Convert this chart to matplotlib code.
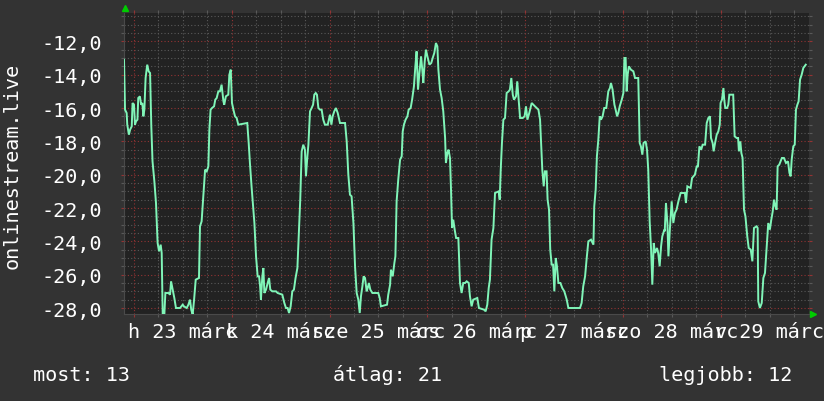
import numpy as np
import matplotlib
matplotlib.use('Agg')
from matplotlib import pyplot as plt

# hours since graph start, value (negative rank)
hours = [0.0, 0.25, 0.65, 0.8, 1.2, 1.5, 1.9, 2.1, 2.45, 2.7, 2.95, 3.3, 3.5, 3.9, 4.2, 4.5, 4.75, 5.0,
         5.3, 5.7, 6.05, 6.4, 6.7, 7.0, 7.45, 7.85, 8.25, 8.6, 9.0, 9.25, 9.5, 9.9, 10.15, 10.9, 11.3,
         11.55, 11.95, 12.35, 12.75, 13.75, 14.4, 14.7, 15.4, 15.8, 16.2, 16.5, 16.85, 17.2, 17.6, 18.4,
         18.65, 19.05, 19.45, 19.9, 20.3, 20.7, 20.95, 21.25, 21.6, 22.1, 22.4, 22.75, 23.15, 23.55,
         23.95, 24.4, 24.6, 25.0, 25.6, 25.85, 26.2, 26.5, 26.85, 27.25, 27.65, 28.05, 30.25, 30.6,
         30.9, 31.3, 31.75, 32.0, 32.4, 32.8,
         33.15, 33.4, 33.6, 33.95, 34.2, 34.45, 34.85, 35.25, 35.6, 35.9, 36.4, 37.3, 37.7, 38.85,
         39.35, 39.75, 40.15, 40.5, 40.9, 41.3, 41.7, 42.1, 42.55, 42.95, 43.25, 43.6, 44.0, 44.4,
         44.65, 45.0, 45.25, 45.65, 46.05, 46.4, 46.7, 47.05, 47.35, 47.7, 48.1, 48.5, 48.9, 49.3,
         50.0, 50.55, 50.9, 51.2, 51.6, 52.0, 52.45, 53.0, 54.25, 54.65, 55.05, 55.45, 55.85, 56.3,
         56.7, 57.1, 57.5, 57.85, 58.15, 58.5, 58.8, 59.15, 59.55, 59.8, 60.1, 60.45, 60.95, 62.4,
         62.75, 63.05, 64.55, 64.85, 65.3, 65.5, 65.95, 66.35,
         66.6, 66.9, 67.3, 67.75, 68.15, 68.4, 68.7, 69.1, 69.55, 69.85, 70.35, 70.7, 71.15, 71.5,
         71.8, 72.15, 72.5, 72.9, 73.2, 73.45, 73.8, 74.1, 74.45, 74.95, 75.4, 75.75, 76.15, 76.55,
         76.9, 77.15, 77.55, 77.95, 78.35, 78.8, 79.0, 79.35, 79.65, 80.0, 80.25, 80.5, 80.8, 81.15,
         81.5, 82.05, 82.45, 82.85, 83.25, 83.7, 84.1, 84.6, 84.9, 85.3, 85.7, 86.7, 87.1, 88.35,
         88.75, 89.15, 89.5, 89.8, 90.2, 90.65, 91.05, 91.95, 92.2, 92.45, 92.75, 93.1, 93.5, 93.9,
         94.4, 94.7, 95.05, 95.4, 95.7, 96.2, 96.5, 96.85, 97.2, 97.85, 98.3, 98.65, 99.0, 99.45,
         100.05, 100.85, 101.7, 102.1, 102.35, 102.65, 103.0, 103.3, 103.7, 103.95, 104.3, 104.6,
         104.95, 105.3, 105.6, 105.95, 106.25, 106.6, 107.1, 107.55, 108.05, 108.65, 109.05, 111.9,
         112.3, 112.7, 113.15, 113.55, 113.95, 114.6, 115.2, 115.4, 115.75, 116.05, 116.4, 116.75,
         117.05, 117.45, 117.85, 118.35, 118.85, 119.25, 119.5, 119.9, 120.35, 120.65, 121.0, 121.3,
         121.65, 122.15, 122.55, 122.8, 123.1, 123.35, 123.6, 123.9, 124.4, 125.0, 125.4, 126.2,
         126.55, 126.85, 127.2, 127.5, 128.0, 128.35, 128.65, 129.0, 129.35, 129.65, 130.0, 130.3,
         130.8, 131.1, 131.45, 131.8, 132.1, 132.6,
         132.7, 133.0, 133.35, 133.6, 134.0, 134.4, 134.8, 135.2, 135.6, 136.05, 136.6, 137.65,
         137.9, 138.25, 139.05, 139.4, 140.1, 140.55, 140.85, 141.2, 141.65, 142.0, 142.6, 143.0,
         143.4, 143.8, 144.05, 144.45, 144.7, 145.05, 145.45, 145.85, 146.2, 146.4, 146.75, 147.1,
         147.3, 147.55, 148.0, 148.3, 148.55, 149.5, 149.85, 150.35, 150.7, 150.9, 151.25, 151.5,
         151.8, 152.15, 152.5, 152.95, 153.3, 153.8, 154.2, 154.6, 155.25, 155.5, 155.65, 156.05,
         156.5, 156.9, 157.3, 157.7, 158.1, 158.5, 158.85, 159.2, 159.5, 159.85, 160.15, 160.4,
         160.8, 161.45, 161.95, 162.45, 162.95, 163.3, 163.6, 163.85, 164.25, 164.6, 164.9, 165.25,
         165.55, 165.9, 166.3, 166.7, 167.3]
values = [-13.1, -16.1, -16.3, -17.0, -17.6, -17.3, -17.1, -15.7, -15.8, -17.0, -16.8, -16.7, -15.4,
          -15.3, -15.8, -15.7, -16.5, -16.1, -14.2, -13.4, -13.8, -13.9, -17.1, -19.2, -20.4, -21.7,
          -24.1, -24.6, -24.2, -24.7, -28.4, -28.4, -27.1, -27.1, -27.2, -26.4, -26.9, -27.4, -28.0,
          -28.0, -27.8, -27.9, -28.0, -27.8, -27.5, -28.1, -28.4, -27.5, -26.3, -26.2, -23.1, -22.8,
          -21.3, -19.7, -19.8, -19.5, -17.3, -16.1, -16.0, -15.9, -15.5, -15.4, -15.0, -15.0, -14.6,
          -15.6, -15.8, -15.3, -15.2, -14.0, -13.7, -15.7, -16.1, -16.5, -16.6, -17.0, -16.9, -18.1,
          -19.3, -20.7, -22.1, -22.9, -24.9, -26.1,
          -26.1, -26.7, -27.5, -26.1, -25.6, -27.1, -26.9, -26.5, -26.2, -26.9, -27.0, -27.0, -27.1,
          -27.2, -27.7, -28.0, -28.0, -28.3, -27.9, -27.0, -26.9, -26.2, -25.6, -23.3, -21.5, -18.6,
          -18.2, -18.5, -20.1, -18.9, -18.2, -16.2, -16.0, -15.8, -15.2, -15.1, -15.2, -16.0, -16.1,
          -16.1, -16.7, -17.0, -17.0, -16.4, -17.0, -16.5, -16.2, -16.0, -16.3, -16.9, -16.9, -18.0,
          -20.0, -21.2, -21.3, -22.9, -25.5, -27.1, -27.5, -28.3, -27.3, -26.7, -26.1, -26.2, -27.0,
          -26.8, -26.5, -26.9, -27.1, -27.1, -27.4, -27.9, -27.8, -27.2, -26.6, -25.7, -26.1, -25.3,
          -24.9, -21.6, -20.3, -19.1, -18.9, -17.4, -17.0, -16.7, -16.5, -16.1, -16.0, -15.5, -14.7,
          -13.5, -12.6, -14.9, -13.9, -12.9, -13.7, -14.5, -13.2, -12.5, -12.9, -13.4, -13.3, -13.0,
          -12.7, -12.1, -12.3, -13.7, -14.9, -15.4, -16.2, -17.8, -19.3, -18.7, -18.5, -19.0, -20.9,
          -23.2, -22.7, -23.3, -23.8, -23.8, -26.5, -27.1, -26.5, -26.5, -26.4, -26.5, -27.3, -27.9,
          -27.5, -27.4, -28.0, -28.1, -28.2, -27.8, -26.8, -26.3, -23.9, -23.2, -21.1, -21.0, -21.5,
          -19.7, -18.1, -16.7, -16.6, -15.1, -15.0, -14.9, -14.2, -15.2, -15.5, -15.3, -14.4, -15.5,
          -16.6, -16.6, -16.5, -15.9, -16.7, -16.3,
          -15.7, -15.9, -16.1, -16.7, -18.1, -19.7, -20.7, -19.8, -19.8, -21.5, -22.1, -24.5, -25.4,
          -25.4, -27.0, -25.0, -25.5, -26.5, -26.5, -26.8, -27.0, -27.5, -28.0, -28.0, -27.7, -26.7,
          -26.1, -25.0, -24.0, -23.9, -24.2, -21.9, -20.9, -18.9, -17.9, -16.5, -16.7, -16.5, -16.0,
          -16.0, -15.0, -14.8, -14.5, -14.9, -15.8, -16.1, -16.5, -16.3, -15.9, -15.5, -15.1, -13.0,
          -13.0, -15.0, -14.0, -13.5, -13.7, -13.8, -14.2, -14.2, -18.1, -18.3, -18.8, -18.1, -18.0,
          -18.5, -19.7, -22.8, -24.5, -26.6, -24.1, -24.7, -24.4, -24.7, -25.5, -24.3, -23.7, -23.3,
          -23.4, -21.7, -22.9, -24.9, -23.1, -21.6, -22.9, -22.3, -22.1, -21.6, -21.1, -21.1, -21.7,
          -20.7, -20.8, -20.2, -20.0, -19.5, -19.5, -18.3, -18.5, -18.2, -18.2, -16.9, -16.6, -16.5,
          -17.8, -18.1, -18.6, -18.1, -17.6, -17.4, -17.0, -15.7, -15.5, -14.8, -15.5, -16.0, -16.0,
          -15.8, -15.2, -15.2, -17.7, -17.8, -17.8, -18.6, -18.0, -18.7, -19.0, -22.1, -22.5, -23.7,
          -24.4, -24.5, -25.2, -23.2, -23.1, -23.2, -27.6, -28.0, -27.7, -26.2, -25.9, -24.4, -22.9,
          -23.3, -22.7, -22.2, -21.5, -21.9, -22.1, -19.5, -19.4, -19.0, -19.0, -19.3, -19.2, -19.9,
          -20.1, -19.1, -18.3, -18.2, -16.1, -15.8, -15.6, -14.3, -14.0, -13.6, -13.4]

day_labels = ['h 23 márc', 'k 24 márc', 'sze 25 márc', 'cs 26 márc',
              'p 27 márc', 'szo 28 márc', 'v 29 márc']
first_midnight = 2.45
legend_texts = ['most: 13', 'átlag: 21', 'legjobb: 12']

BG = '#333333'
CANVAS = '#222222'
LINE = '#80f5b8'
MINOR = '#595959'
MAJOR = '#933333'
mono = 'DejaVu Sans Mono'

fig = plt.figure(figsize=(8.24, 4.02), dpi=100, facecolor=BG)
ax = fig.add_axes([124/824, 87/402, 685/824, 301/402])
ax.set_facecolor(CANVAS)
ax.set_xlim(0, 168.1)
ax.set_ylim(-28.36, -10.3)

midnights = first_midnight + 24*np.arange(7)
sixh = [t for t in first_midnight + 6*np.arange(-1, 28) if 0 < t < 168.1 and t not in midnights]
ymajor = np.arange(-28, -11, 2)
yminor = [v for v in np.arange(-28, -10.3, 0.5) if v not in ymajor]

dots = (0, (1, 2))
for t in sixh:
    ax.axvline(t, color=MINOR, lw=0.8, ls=dots, zorder=1)
for v in yminor:
    ax.axhline(v, color=MINOR, lw=0.8, ls=dots, zorder=1)
for t in midnights:
    ax.axvline(t, color=MAJOR, lw=0.8, ls=dots, zorder=1)
for v in ymajor:
    ax.axhline(v, color=MAJOR, lw=0.8, ls=dots, zorder=1)

ax.plot(hours, values, color=LINE, lw=1.4, zorder=3, solid_joinstyle='miter')

for s in ['top', 'right']:
    ax.spines[s].set_visible(False)
for s in ['left', 'bottom']:
    ax.spines[s].set_color('#4a4a4a')

ax.set_xticks(midnights)
ax.set_xticks(sixh, minor=True)
ax.set_xticklabels([''] * len(midnights))
ax.set_yticks(ymajor)
ax.set_yticks(yminor, minor=True)
ax.set_yticklabels([('%.1f' % v).replace('.', ',') for v in ymajor],
                   fontsize=14.5, family=mono, color='white')
ax.tick_params(which='both', direction='out', length=2, width=0.8, pad=14)
ax.tick_params(axis='x', which='both', top=True)
ax.tick_params(axis='y', which='both', right=True)
ax.tick_params(which='major', color=MAJOR)
ax.tick_params(which='minor', color=MINOR)

for i, lab in enumerate(day_labels):
    ax.text(first_midnight + 12 + 24*i, -0.075, lab, transform=ax.get_xaxis_transform(),
            ha='center', va='baseline', fontsize=14.5, family=mono, color='white', clip_on=False)

# arrows at axis ends
ax.plot([0.002], [1.015], marker='^', color='#00cc00', ms=5, transform=ax.transAxes, clip_on=False)
ax.plot([1.006], [0.0], marker='>', color='#00cc00', ms=5, transform=ax.transAxes, clip_on=False)

fig.text(12/824, 1 - 166/402, 'onlinestream.live', rotation=90, ha='center', va='center',
         fontsize=14.5, family=mono, color='white')
fig.text(33/824, 21/402, legend_texts[0], ha='left', va='baseline', fontsize=14.5, family=mono, color='white')
fig.text(333/824, 21/402, legend_texts[1], ha='left', va='baseline', fontsize=14.5, family=mono, color='white')
fig.text(792/824, 21/402, legend_texts[2], ha='right', va='baseline', fontsize=14.5, family=mono, color='white')

fig.savefig('out.png', dpi=100, facecolor=BG)
